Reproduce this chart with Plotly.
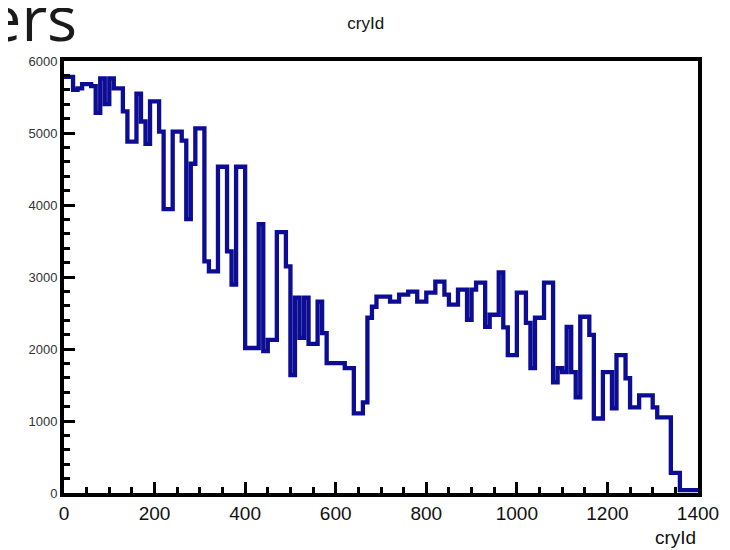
import numpy as np
import plotly.graph_objects as go

# Histogram of cryId, bin width 10, range 0..1400
bin_width = 10
x_min, x_max = 0, 1400
counts = [
    5780, 5780, 5600, 5620, 5680, 5680, 5650, 5280, 5760, 5400,
    5760, 5620, 5620, 5300, 4880, 4880, 5545, 5160, 4850, 5440,
    5440, 5020, 3944, 3944, 5020, 5020, 4895, 3804, 4573, 5063,
    5063, 3217, 3077, 3077, 4531, 4531, 3357, 2895, 4531, 4531,
    2014, 2014, 2014, 3734, 1970, 2126, 2126, 3622, 3622, 3147,
    1636, 2713, 2154, 2713, 2070, 2070, 2657, 2220, 1804, 1804,
    1804, 1804, 1734, 1734, 1105, 1105, 1259, 2434, 2587, 2727,
    2727, 2727, 2657, 2657, 2755, 2755, 2797, 2797, 2657, 2657,
    2783, 2783, 2937, 2937, 2755, 2615, 2615, 2825, 2825, 2406,
    2825, 2923, 2923, 2308, 2476, 2476, 3063, 2300, 1916, 1916,
    2783, 2783, 2364, 1734, 2434, 2434, 2923, 2923, 1538, 1734,
    1678, 2308, 1678, 1329, 2448, 2448, 2196, 1035, 1035, 1678,
    1678, 1175, 1916, 1916, 1594, 1189, 1189, 1357, 1357, 1357,
    1189, 1049, 1049, 1049, 280, 280, 40, 40, 40, 40,
]
x_ticks = [0, 200, 400, 600, 800, 1000, 1200, 1400]
y_ticks = [0, 1000, 2000, 3000, 4000, 5000, 6000]

edges = np.arange(x_min, x_max + bin_width, bin_width)
y_step = list(counts) + [counts[-1]]

fig = go.Figure()
fig.add_trace(go.Scatter(
    x=edges, y=y_step, mode="lines", line_shape="hv",
    line=dict(color="#0c0c94", width=4.3), showlegend=False,
    cliponaxis=True,
))

fig.update_layout(
    width=730, height=550,
    margin=dict(l=56, r=40, t=53, b=65),
    paper_bgcolor="white", plot_bgcolor="white",
    title=dict(text="cryId", x=0.49, xanchor="center", y=0.972, yanchor="middle",
               font=dict(family="Liberation Sans", size=17, color="#111")),
    xaxis=dict(range=[x_min, x_max], tickvals=x_ticks, ticktext=[str(t) for t in x_ticks],
               showgrid=False, zeroline=False, showline=True, linecolor="black", linewidth=4,
               mirror=True, ticks="inside", ticklen=11, tickwidth=3, tickcolor="black",
               minor=dict(dtick=50, ticks="inside", ticklen=6, tickwidth=3, tickcolor="black"),
               tickfont=dict(family="Liberation Sans", size=19, color="#111")),
    yaxis=dict(range=[0, 6000], tickvals=y_ticks, ticktext=[str(t) for t in y_ticks],
               showgrid=False, zeroline=False, showline=True, linecolor="black", linewidth=4,
               mirror=True, ticks="inside", ticklen=11, tickwidth=3, tickcolor="black",
               minor=dict(dtick=200, ticks="inside", ticklen=6, tickwidth=3, tickcolor="black"),
               tickfont=dict(family="Liberation Sans", size=13, color="#333")),
    annotations=[
        dict(text="cryId", xref="paper", yref="paper", x=1.0, y=-0.104,
             xanchor="right", yanchor="middle", showarrow=False,
             font=dict(family="Liberation Sans", size=19, color="#111")),
        dict(text="ers", xref="paper", yref="paper", x=0.024, y=1.102,
             xanchor="right", yanchor="middle", showarrow=False,
             font=dict(family="Open Sans", size=63, color="#1a1a1a")),
    ],
)

fig.write_html("out.html")
